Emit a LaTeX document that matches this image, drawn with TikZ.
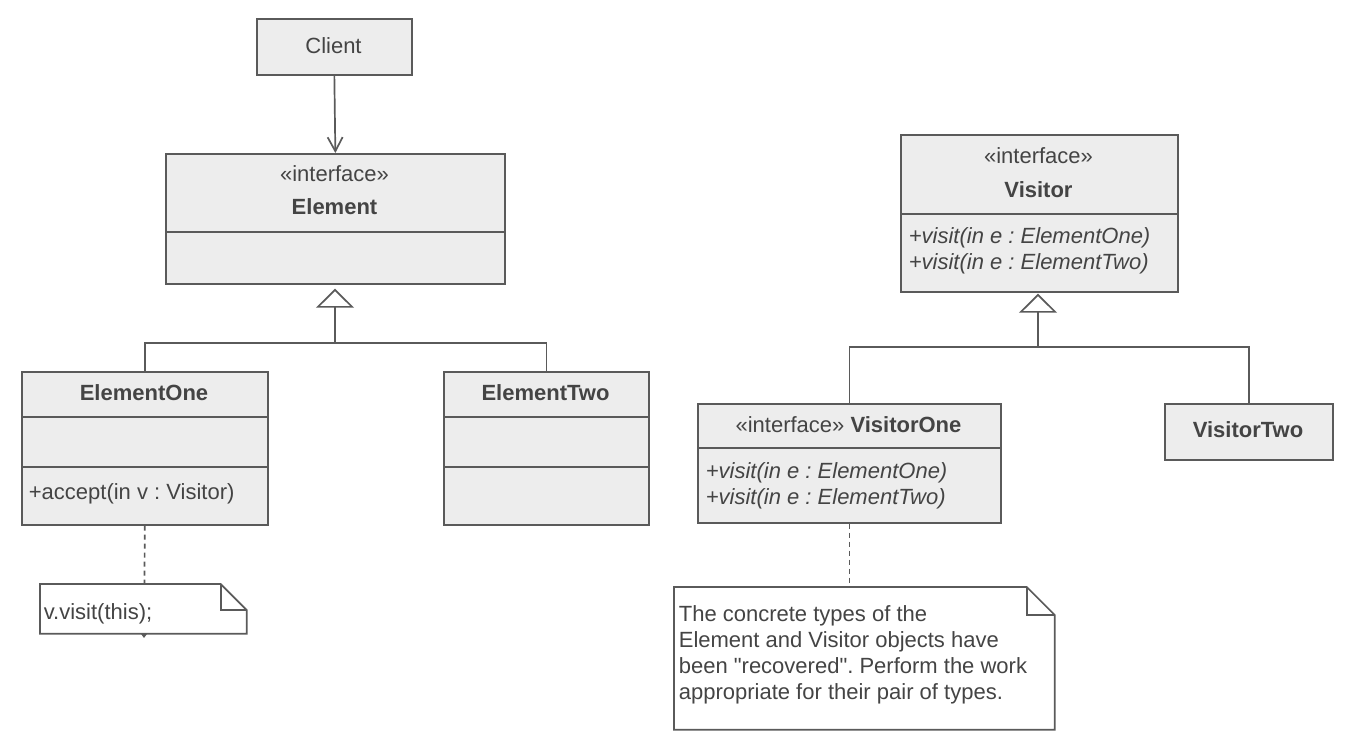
\documentclass[tikz,border=0pt]{standalone}
\usepackage{fontspec}
\setmainfont{Liberation Sans}[Ligatures=TeXOff]
\usetikzlibrary{arrows.meta,calc}
\definecolor{linec}{HTML}{5A5A5A}
\definecolor{boxfill}{HTML}{EDEDED}
\definecolor{txt}{HTML}{444444}
\frenchspacing
\begin{document}
\frenchspacing
\begin{tikzpicture}[x=1pt,y=-1pt,line width=1.7pt,color=linec,
  cls/.style={draw=linec,fill=boxfill,rectangle,inner sep=0pt,anchor=north west},
  notebox/.style={draw=none,rectangle,inner sep=0pt,anchor=north west},
  lbl/.style={text=txt,inner sep=0pt,anchor=base,font=\fontsize{22}{26}\selectfont\frenchspacing},
  lbll/.style={lbl,anchor=base west},
  bld/.style={lbl,font=\fontsize{22}{26}\selectfont\bfseries},
  itl/.style={lbll,font=\fontsize{22}{26}\selectfont\itshape\frenchspacing},
  dep/.style={dash pattern=on 5pt off 4pt},
  inh/.style={-{Triangle[open,length=19pt,width=38pt]}},
  assoc/.style={-{Straight Barb[length=14pt,width=15pt]}}
]
\useasboundingbox (0,0) rectangle (1352,744);

% class boxes
\node[cls,minimum width=155pt,minimum height=56pt] (client) at (256,18) {};
\node[cls,minimum width=339pt,minimum height=130pt] (element) at (165,153) {};
\node[cls,minimum width=246pt,minimum height=153pt] (e1) at (21,371) {};
\node[cls,minimum width=205pt,minimum height=153pt] (e2) at (443,371) {};
\node[cls,minimum width=277pt,minimum height=157pt] (visitor) at (900,134) {};
\node[cls,minimum width=303pt,minimum height=119pt] (v1) at (697,403) {};
\node[cls,minimum width=168pt,minimum height=56pt] (v2) at (1164,403) {};

% compartments
\draw (element.west |- 0,232) -- (element.east |- 0,232);
\draw (e1.west |- 0,417) -- (e1.east |- 0,417);
\draw (e1.west |- 0,467) -- (e1.east |- 0,467);
\draw (e2.west |- 0,417) -- (e2.east |- 0,417);
\draw (e2.west |- 0,467) -- (e2.east |- 0,467);
\draw (visitor.west |- 0,214) -- (visitor.east |- 0,214);
\draw (v1.west |- 0,448) -- (v1.east |- 0,448);

% note placeholders
\node[notebox,minimum width=205pt,minimum height=48pt] (note1) at (40,584) {};
\node[notebox,minimum width=379pt,minimum height=141pt] (note2) at (674,587) {};

% connectors
\draw[assoc] (client.south) -- (element.north);
\coordinate (hE) at (335,343);
\draw (e1.north) |- (hE) -| (e2.north);
\draw[inh,shorten >=4pt] (hE) -- (hE |- element.south);
\coordinate (hV) at (1038,347);
\draw (v1.north) |- (hV) -| (v2.north);
\draw[inh,shorten >=1pt] (hV) -- (hV |- visitor.south);
\coordinate (n1tip) at (144,638);
\draw[dep,-{Triangle[length=5pt,width=7pt]}] (e1.south) -- (n1tip);
\draw[dep] (v1.south) -- (v1.south |- note2.north);

% note outlines
\draw[fill=white] (note1.north west) -- ($(note1.north east)+(-26,0)$) -- ($(note1.north east)+(0,26)$) -- (note1.south east) -- (note1.south west) -- cycle;
\draw ($(note1.north east)+(-26,0)$) -- ($(note1.north east)+(-26,26)$) -- ($(note1.north east)+(0,26)$);
\draw[fill=white] (note2.north west) -- ($(note2.north east)+(-28,0)$) -- ($(note2.north east)+(0,28)$) -- (note2.south east) -- (note2.south west) -- cycle;
\draw ($(note2.north east)+(-28,0)$) -- ($(note2.north east)+(-28,28)$) -- ($(note2.north east)+(0,28)$);

% texts
\node[lbl] (tclient) at (333.5,53) {Client};
\node[lbl] (tes) at (334.5,181) {«interface»};
\node[bld] (tel) at (334.5,214) {Element};
\node[bld] (te1) at (144,400) {ElementOne};
\node[lbll] (tacc) at (28,499) {+accept(in v : Visitor)};
\node[bld] (te2) at (545.5,400) {ElementTwo};
\node[lbll] (tn1) at (43,619) {v.visit(this);};
\node[lbl] (tvs) at (1038.5,163) {«interface»};
\node[bld] (tvn) at (1038.5,197) {Visitor};
\node[itl] (tvm1) at (908,243) {+visit(in e : ElementOne)};
\node[itl] (tvm2) at (908,269) {+visit(in e : ElementTwo)};
\node[lbl] (tv1) at (848.5,432) {«interface» \textbf{VisitorOne}};
\node[itl] (tv1m1) at (705,478) {+visit(in e : ElementOne)};
\node[itl] (tv1m2) at (705,504) {+visit(in e : ElementTwo)};
\node[bld] (tv2) at (1248,437) {VisitorTwo};
\node[lbll] (tn2a) at (678,621) {The concrete types of the};
\node[lbll] (tn2b) at (678,647) {Element and Visitor objects have};
\node[lbll] (tn2c) at (678,673) {been "recovered". Perform the work};
\node[lbll] (tn2d) at (678,699) {appropriate for their pair of types.};
\end{tikzpicture}
\end{document}
